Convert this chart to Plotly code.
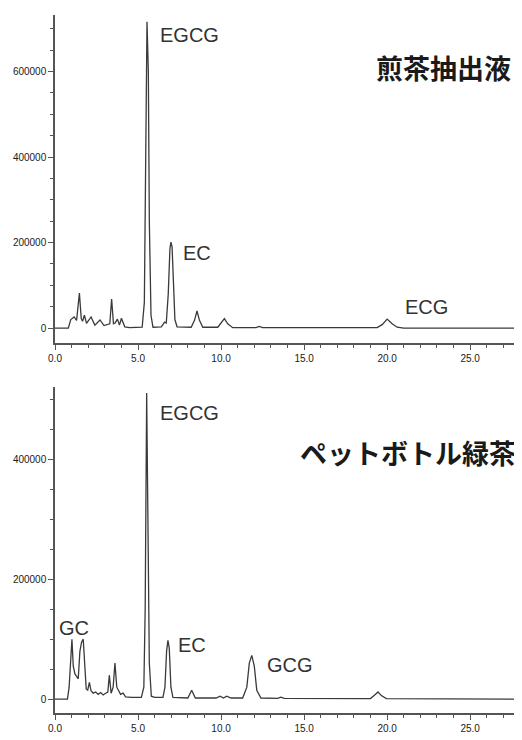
import plotly.graph_objects as go

# 煎茶抽出液 chromatogram: retention time (min) and detector response
sencha_time = [0.0, 0.8, 0.95, 1.15, 1.3, 1.47, 1.58, 1.66, 1.77, 1.9, 2.17, 2.4, 2.71, 2.95, 3.3, 3.41, 3.52,
               3.62, 3.76, 3.88, 4.0, 4.2, 4.5, 5.25, 5.38, 5.46, 5.54, 5.62, 5.68, 5.78, 5.9, 6.4, 6.6,
               6.7, 6.82, 6.92, 6.98, 7.05, 7.12, 7.22, 7.35, 8.2, 8.4, 8.55, 8.7, 8.9, 9.8, 10.05, 10.2,
               10.4, 10.7, 12.1, 12.3, 12.5, 19.4, 19.7, 20.0, 20.3, 20.6, 21.0, 28.0]
sencha_resp = [0, 0, 20000, 26000, 18000, 82000, 22000, 16000, 30000, 11000, 26000, 7000, 19000, 6000, 10000, 68000,
               10000, 12000, 21000, 7000, 23000, 3000, 1000, 2000, 60000, 350000, 716000, 600000, 250000, 30000, 2000, 3000, 14000,
               12000, 80000, 185000, 201000, 190000, 100000, 20000, 3000, 2000, 18000, 40000, 18000, 2000, 2000, 14000, 22000,
               10000, 1000, 1000, 4000, 1000, 1000, 8000, 21000, 10000, 2000, 0, 0]

# ペットボトル緑茶 chromatogram
bottle_time = [0.0, 0.75, 0.85, 0.95, 1.02, 1.1, 1.2, 1.3, 1.4, 1.5, 1.6, 1.7, 1.78, 1.88, 1.97, 2.07, 2.17,
               2.3, 2.45, 2.6, 2.75, 2.9, 3.05, 3.18, 3.27, 3.38, 3.5, 3.61, 3.72, 3.82, 3.95, 4.1, 4.25,
               4.6, 5.2, 5.35, 5.43, 5.52, 5.6, 5.68, 5.8, 6.0, 6.5, 6.62, 6.72, 6.8, 6.88, 6.98, 7.1,
               8.0, 8.23, 8.45, 9.7, 9.94, 10.14, 10.34, 10.6, 11.3, 11.55, 11.7, 11.85, 12.0, 12.15, 12.4,
               13.4, 13.6, 13.8, 19.0, 19.25, 19.45, 19.65, 19.95, 28.0]
bottle_resp = [0, 0, 20000, 60000, 100000, 55000, 42000, 38000, 34000, 80000, 95000, 100000, 55000, 17000, 15000, 28000, 14000,
               10000, 12000, 8000, 11000, 7000, 10000, 12000, 40000, 10000, 20000, 60000, 20000, 15000, 8000, 10000, 4000,
               3000, 3000, 20000, 150000, 510000, 210000, 60000, 5000, 3000, 3000, 20000, 80000, 98000, 85000, 20000, 3000,
               2000, 15000, 2000, 2000, 5000, 2000, 5000, 2000, 2000, 20000, 60000, 73000, 55000, 15000, 2000,
               1500, 3500, 1500, 1000, 7000, 12000, 6000, 1000, 0]

sencha_labels = ["EGCG", "EC", "ECG"]
sencha_label_t = [6.2, 7.6, 20.96]
sencha_label_v = [685000, 175000, 49000]

bottle_labels = ["EGCG", "GC", "EC", "GCG"]
bottle_label_t = [6.2, 0.12, 7.3, 12.65]
bottle_label_v = [477000, 118000, 90000, 57000]

x_tick_vals = [0, 5, 10, 15, 20, 25]
sencha_y_ticks = [0, 200000, 400000, 600000]
bottle_y_ticks = [0, 200000, 400000]

title_top = "煎茶抽出液"
title_bottom = "ペットボトル緑茶"

line_color = "#3a3a3a"
axis_color = "#555555"
tick_font = dict(family="Liberation Sans", size=10, color="#1a1a1a")

fig = go.Figure()
fig.add_trace(go.Scatter(x=sencha_time, y=sencha_resp, mode="lines",
                         line=dict(color=line_color, width=1.3), xaxis="x", yaxis="y",
                         showlegend=False, hoverinfo="skip"))
fig.add_trace(go.Scatter(x=bottle_time, y=bottle_resp, mode="lines",
                         line=dict(color=line_color, width=1.3), xaxis="x2", yaxis="y2",
                         showlegend=False, hoverinfo="skip"))

xaxis_common = dict(range=[0, 28], showgrid=False, zeroline=False, showline=True,
                    linecolor=axis_color, linewidth=1.5, ticks="outside", ticklen=5,
                    tickcolor=axis_color, tickwidth=1, tickvals=x_tick_vals, tickformat=".1f",
                    tickfont=tick_font,
                    minor=dict(dtick=1, ticks="outside", ticklen=3, tickcolor=axis_color, tickwidth=1))
yaxis_common = dict(showgrid=False, zeroline=False, showline=True, linecolor=axis_color,
                    linewidth=1.5, ticks="outside", ticklen=5, tickcolor=axis_color, tickwidth=1,
                    tickformat="d", tickfont=tick_font,
                    minor=dict(dtick=50000, ticks="outside", ticklen=3, tickcolor=axis_color, tickwidth=1))

# page body adds an 8px margin, so the figure is 8px smaller and margins shifted
fig.update_layout(
    width=514, height=732,
    margin=dict(l=47, r=2, t=7, b=27),
    paper_bgcolor="white", plot_bgcolor="white",
    xaxis=dict(domain=[0, 1], anchor="y", **xaxis_common),
    yaxis=dict(domain=[0.530, 1.0], anchor="x", range=[-35000, 732000],
               tickvals=sencha_y_ticks, **yaxis_common),
    xaxis2=dict(domain=[0, 1], anchor="y2", **xaxis_common),
    yaxis2=dict(domain=[0, 0.467], anchor="x2", range=[-23000, 520000],
                tickvals=bottle_y_ticks, **yaxis_common),
)

label_font = dict(family="Liberation Sans", size=20, color="#333333")
for txt, t, v in zip(sencha_labels, sencha_label_t, sencha_label_v):
    fig.add_annotation(x=t, y=v, xref="x", yref="y", text=txt, showarrow=False,
                       xanchor="left", yanchor="middle", font=label_font)
for txt, t, v in zip(bottle_labels, bottle_label_t, bottle_label_v):
    fig.add_annotation(x=t, y=v, xref="x2", yref="y2", text=txt, showarrow=False,
                       xanchor="left", yanchor="middle", font=label_font)

title_font = dict(family="Noto Sans CJK JP", size=27, color="#1a1a1a", weight="bold")
fig.add_annotation(x=0.985, y=0.841, xref="x domain", yref="y domain", text=title_top,
                   showarrow=False, xanchor="right", yanchor="middle", font=title_font)
fig.add_annotation(x=0.996, y=0.80, xref="x2 domain", yref="y2 domain", text=title_bottom,
                   showarrow=False, xanchor="right", yanchor="middle", font=title_font)

fig.write_html("out.html")
